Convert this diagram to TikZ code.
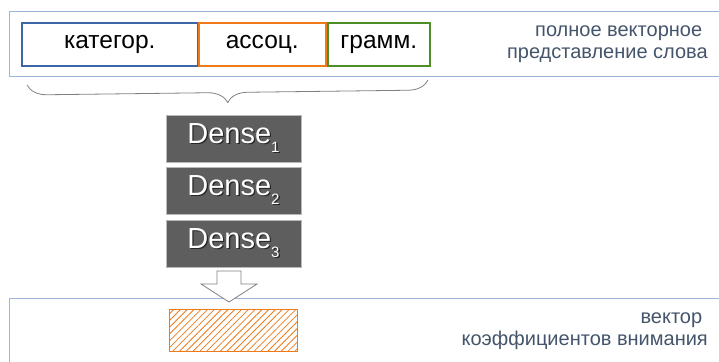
\documentclass[tikz,border=0pt]{standalone}
\usepackage{fontspec}
\setmainfont{Liberation Sans}
\usetikzlibrary{positioning,decorations.pathreplacing,patterns.meta}

\definecolor{frameblue}{HTML}{9DB5D8}
\definecolor{catblue}{HTML}{3C66A6}
\definecolor{assocorange}{HTML}{EE7A1A}
\definecolor{grammgreen}{HTML}{4F8E27}
\definecolor{notegray}{HTML}{44546A}
\definecolor{densegray}{HTML}{5E5E5E}

% white label with a dark drop shadow
\newcommand\shadowed[1]{\rlap{\kern1.3pt\raisebox{-1.3pt}{\color{black!85}#1}}#1}
\newcommand\densesub[1]{\raisebox{-9pt}{\fontsize{15}{15}\selectfont #1}}

\tikzset{
  frame/.style={draw=frameblue, line width=1pt, minimum width=730pt, inner sep=0pt, anchor=north west},
  part/.style={line width=1.6pt, minimum height=43pt, inner sep=0pt, anchor=north west,
    font=\fontsize{24.5}{28}\selectfont},
  dense/.style={fill=densegray, draw=gray!55, line width=.8pt, minimum width=135pt, minimum height=47pt,
    inner sep=0pt, text=white, font=\fontsize{29}{32}\selectfont},
  note/.style={text=notegray, align=right, inner sep=0pt, anchor=east, font=\fontsize{20}{22}\selectfont}
}

\begin{document}
\begin{tikzpicture}[x=1pt,y=-1pt,>=stealth]
\useasboundingbox (0,0) rectangle (719,361);

% word vector: three parts
\node[frame, minimum height=65pt] (wordbox) at (9,11) {};
\node[part, draw=catblue, minimum width=176pt] (cat) at (21,22) {категор.};
\node[part, draw=assocorange, minimum width=127pt] (assoc) at (198,22) {ассоц.};
\node[part, draw=grammgreen, minimum width=102pt] (gramm) at (327,22) {грамм.};
\node[note] (wordnote) at (708,44) {полное векторное\kern.28em\\представление слова};

\coordinate (braceR) at (428,80);
\coordinate (braceL) at (27,85);
\draw[decorate, decoration={brace, amplitude=20pt}, gray, line width=.8pt] (braceR) -- (braceL);

% dense stack
\node[dense] (dense1) at (233.5,138.5) {\shadowed{Dense\densesub{1}}};
\node[dense] (dense2) at (233.5,190.5) {\shadowed{Dense\densesub{2}}};
\node[dense] (dense3) at (233.5,243.5) {\shadowed{Dense\densesub{3}}};

% attention weights
\node[frame, minimum height=80pt] (attbox) at (9,298) {};
\draw[gray, fill=white, line width=.8pt] (217,271) -- (241,271) -- (241,284) -- (257,284)
  -- (229,302) -- (201,284) -- (217,284) -- cycle;
\node[draw=assocorange, line width=1.5pt, minimum width=128pt, minimum height=42pt, anchor=north west,
  pattern={Lines[angle=45, distance=4.8pt, line width=.8pt]}, pattern color=assocorange] (attn) at (169,309) {};
\node[note] (attnote) at (708,331.5) {вектор\kern.28em\\коэффициентов внимания};
\end{tikzpicture}
\end{document}
